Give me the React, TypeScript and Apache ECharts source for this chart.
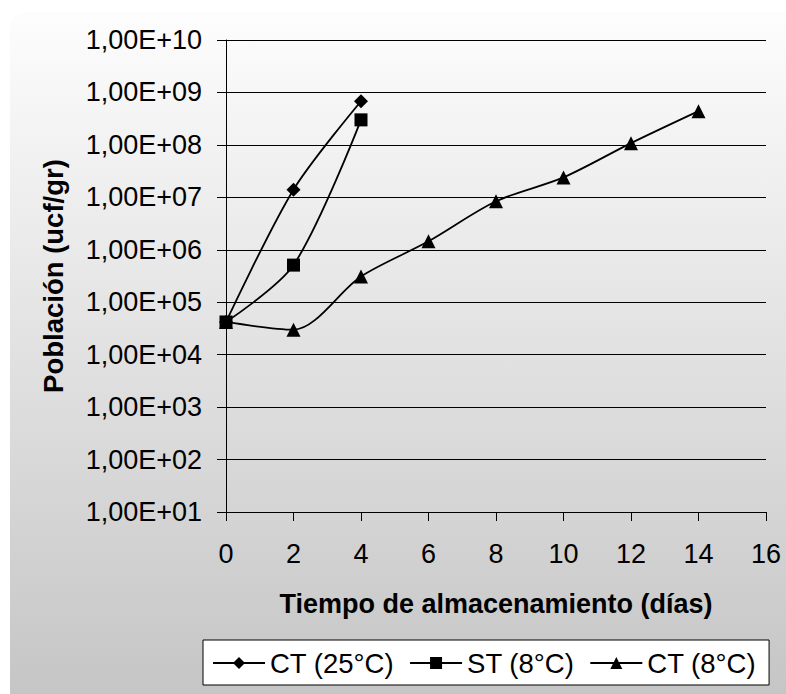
import React, { useEffect, useRef } from "react";
import * as echarts from "echarts";

// Storage time (days) and microbial population (ucf/gr) per treatment
const dias = [0, 2, 4, 6, 8, 10, 12, 14];
const ct25 = [4.2e4, 1.4e7, 6.8e8];
const st8 = [4.2e4, 5.1e5, 3.0e8];
const ct8 = [4.2e4, 3.0e4, 3.1e5, 1.45e6, 8.4e6, 2.4e7, 1.08e8, 4.4e8];

const seriesNames = ["CT (25°C)", "ST (8°C)", "CT (8°C)"];
const xTitle = "Tiempo de almacenamiento (días)";
const yTitle = "Población (ucf/gr)";

const font = "'Liberation Sans', Arial, sans-serif";

function pairs(values: number[]) {
  return values.map((v, i) => [dias[i], v]);
}

function yLabel(v: number) {
  const exp = Math.round(Math.log10(v));
  return "1,00E+" + String(exp).padStart(2, "0");
}

export default function App() {
  const ref = useRef<HTMLDivElement>(null);

  useEffect(() => {
    if (!ref.current) return;
    const chart = echarts.init(ref.current, undefined, { renderer: "svg" });
    const lineStyle = { color: "#000", width: 1.8 };
    chart.setOption({
      animation: false,
      graphic: [
        {
          type: "rect",
          z: -10,
          silent: true,
          shape: { x: 10, y: 12, width: 800, height: 700, r: 16 },
          style: {
            fill: new echarts.graphic.LinearGradient(0, 0, 0, 1, [
              { offset: 0, color: "#fdfdfd" },
              { offset: 1, color: "#c4c4c4" },
            ]),
          },
        },
      ],
      grid: { left: 226, right: 20, top: 40, bottom: 182 },
      xAxis: {
        type: "value",
        min: 0,
        max: 16,
        interval: 2,
        name: xTitle,
        nameLocation: "middle",
        nameGap: 78,
        nameTextStyle: { fontFamily: font, fontSize: 27, fontWeight: "bold", color: "#000" },
        axisLine: { show: true, lineStyle: { color: "#000", width: 1 } },
        axisTick: { show: true, length: 9, lineStyle: { color: "#000" } },
        axisLabel: { fontFamily: font, fontSize: 27, color: "#000", margin: 28 },
        splitLine: { show: false },
      },
      yAxis: {
        type: "log",
        logBase: 10,
        min: 10,
        max: 1e10,
        name: yTitle,
        nameLocation: "middle",
        nameGap: 159,
        nameTextStyle: { fontFamily: font, fontSize: 27.5, fontWeight: "bold", color: "#000" },
        axisLine: { show: true, lineStyle: { color: "#000", width: 1 } },
        axisTick: { show: true, length: 9, lineStyle: { color: "#000" } },
        axisLabel: { fontFamily: font, fontSize: 27, color: "#000", margin: 24, formatter: yLabel },
        splitLine: { show: true, lineStyle: { color: "#000", width: 1 } },
      },
      legend: {
        left: 203,
        top: 640,
        orient: "horizontal",
        backgroundColor: "#fff",
        borderColor: "#000",
        borderWidth: 1,
        borderRadius: 0,
        padding: [9, 13, 8, 9],
        itemGap: 15,
        itemWidth: 52,
        itemHeight: 15,
        textStyle: { fontFamily: font, fontSize: 27.5, color: "#000" },
        data: seriesNames,
      },
      series: [
        {
          name: seriesNames[0],
          type: "line",
          smooth: 0.3,
          data: pairs(ct25),
          symbol: "diamond",
          symbolSize: 14,
          itemStyle: { color: "#000" },
          lineStyle,
        },
        {
          name: seriesNames[1],
          type: "line",
          smooth: 0.3,
          data: pairs(st8),
          symbol: "rect",
          symbolSize: 13,
          itemStyle: { color: "#000" },
          lineStyle,
        },
        {
          name: seriesNames[2],
          type: "line",
          smooth: 0.3,
          data: pairs(ct8),
          symbol: "triangle",
          symbolSize: 14,
          itemStyle: { color: "#000" },
          lineStyle,
        },
      ],
    });
    return () => chart.dispose();
  }, []);

  return (
    <div
      ref={ref}
      style={{ position: "fixed", left: 0, top: 0, width: 786, height: 694, background: "#fff" }}
    />
  );
}
